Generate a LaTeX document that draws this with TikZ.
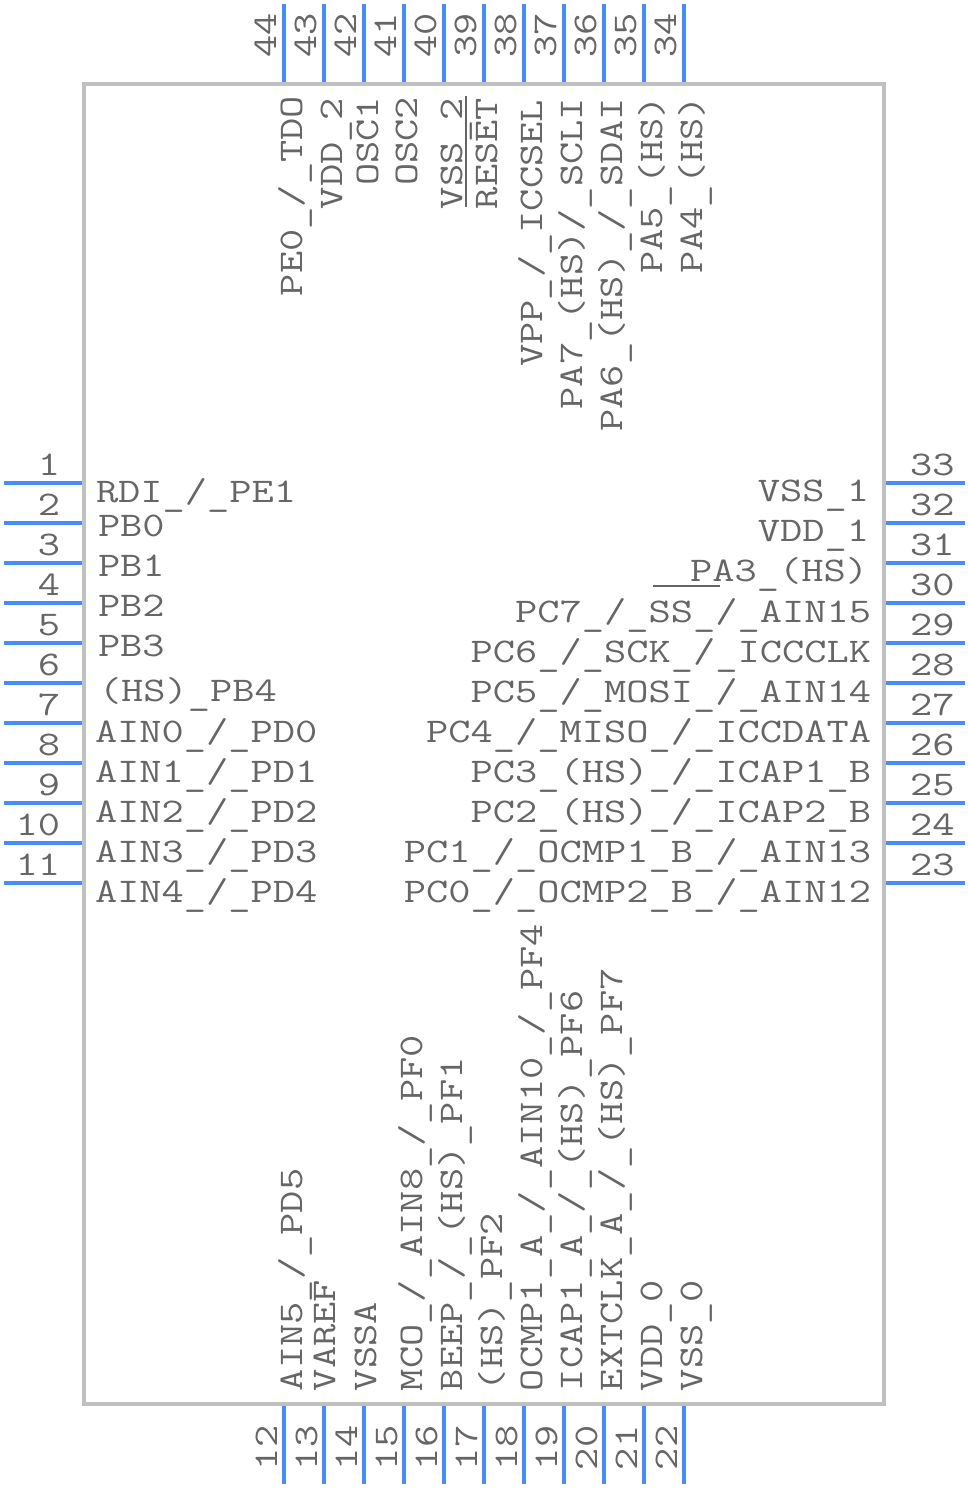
\documentclass[tikz,border=0pt]{standalone}
\usepackage{graphicx}
\definecolor{pinblue}{HTML}{4A8CF7}
\definecolor{bodygray}{HTML}{C0C0C0}
\definecolor{textgray}{HTML}{666666}
\newcommand{\pinfont}[1]{\scalebox{1}[0.80]{\fontsize{43.2}{50}\ttfamily #1}}
\newcommand{\us}{\raisebox{-4pt}{\_}}
\newcommand{\fs}{/}

\begin{document}
\begin{tikzpicture}[%
  x=1pt, y=-1pt,
  pin/.style = {draw=pinblue, line width=4pt},
  body/.style = {draw=bodygray, line width=4pt},
  label/.style = {text=textgray, inner sep=0pt, outer sep=0pt},
  bar/.style = {draw=textgray, line width=1.5pt},
]
  \useasboundingbox (0,0) rectangle (968,1488);

  \draw[body] (84,84) rectangle (884,1404);

  % left side
  \foreach \n in {1,...,11} {
    \pgfmathsetmacro{\py}{443+40*\n}
    \draw[pin] (4,\py) -- (82,\py);
    \node[label, anchor=base east] (numL\n) at (60,\py-8) {\pinfont{\n}};
  }
  \foreach \n/\x/\y/\name in {1/96/502/RDI\us\fs\us PE1, 2/98/536/PB0, 3/98/576/PB1, 4/98/616/PB2, 5/98/656/PB3,
      6/99/701/(HS)\us PB4, 7/95/742/AIN0\us\fs\us PD0, 8/95/782/AIN1\us\fs\us PD1,
      9/95/822/AIN2\us\fs\us PD2, 10/95/862/AIN3\us\fs\us PD3, 11/95/902/AIN4\us\fs\us PD4} {
    \node[label, anchor=base west] (nameL\n) at (\x,\y) {\pinfont{\name}};
  }

  % right side
  \foreach \n in {23,...,33} {
    \pgfmathsetmacro{\py}{883-40*(\n-23)}
    \draw[pin] (886,\py) -- (965,\py);
    \node[label, anchor=base west] (numR\n) at (910,\py-8) {\pinfont{\n}};
  }
  \foreach \n/\x/\y/\name in {33/869/501/VSS\us 1, 32/869/541/VDD\us 1, 31/868/581/PA3\us(HS),
      30/871/622/PC7\us\fs\us SS\us\fs\us AIN15, 29/871/662/PC6\us\fs\us SCK\us\fs\us ICCCLK,
      28/871/702/PC5\us\fs\us MOSI\us\fs\us AIN14, 27/871/742/PC4\us\fs\us MISO\us\fs\us ICCDATA,
      26/871/782/PC3\us(HS)\us\fs\us ICAP1\us B, 25/871/822/PC2\us(HS)\us\fs\us ICAP2\us B,
      24/871/862/PC1\us\fs\us OCMP1\us B\us\fs\us AIN13, 23/871/902/PC0\us\fs\us OCMP2\us B\us\fs\us AIN12} {
    \node[label, anchor=base east] (nameR\n) at (\x,\y) {\pinfont{\name}};
  }
  \coordinate (ssA) at (653,586);
  \coordinate (ssB) at (720,586);
  \draw[bar] (ssA) -- (ssB);

  % top side
  \foreach \n in {34,...,44} {
    \pgfmathsetmacro{\px}{684-40*(\n-34)}
    \draw[pin] (\px,4) -- (\px,82);
    \node[label, rotate=90, anchor=base west] (numT\n) at (\px-8,58) {\pinfont{\n}};
  }
  \foreach \n/\x/\y/\name in {44/302/96/PE0\us\fs\us TDO, 43/342/98/VDD\us 2, 42/378/97/OSC1, 41/417/97/OSC2,
      40/462/98/VSS\us 2, 39/497/98/RESET, 38/542/100/VPP\us\fs\us ICCSEL, 37/582/98/PA7\us(HS)\fs\us SCLI,
      36/622/98/PA6\us(HS)\us\fs\us SDAI, 35/662/96/PA5\us(HS), 34/702/96/PA4\us(HS)} {
    \node[label, rotate=90, anchor=base east] (nameT\n) at (\x,\y) {\pinfont{\name}};
  }
  \coordinate (rstA) at (466,96);
  \coordinate (rstB) at (466,207);
  \draw[bar] (rstA) -- (rstB);

  % bottom side
  \foreach \n in {12,...,22} {
    \pgfmathsetmacro{\px}{284+40*(\n-12)}
    \draw[pin] (\px,1406) -- (\px,1484);
    \node[label, rotate=90, anchor=base west] (numB\n) at (\px-7,1470) {\pinfont{\n}};
  }
  \foreach \n/\x/\name in {12/302/AIN5\us\fs\us PD5, 13/335/VAREF, 14/376/VSSA,
      15/422/MCO\us\fs\us AIN8\us\fs\us PF0, 16/462/BEEP\us\fs\us(HS)\us PF1, 17/502/(HS)\us PF2,
      18/542/OCMP1\us A\us\fs\us AIN10\us\fs\us PF4, 19/582/ICAP1\us A\us\fs\us(HS)\us PF6,
      20/622/EXTCLK\us A\us\fs\us(HS)\us PF7, 21/662/VDD\us 0, 22/702/VSS\us 0} {
    \node[label, rotate=90, anchor=base west] (nameB\n) at (\x,1391) {\pinfont{\name}};
  }

\end{tikzpicture}
\end{document}
